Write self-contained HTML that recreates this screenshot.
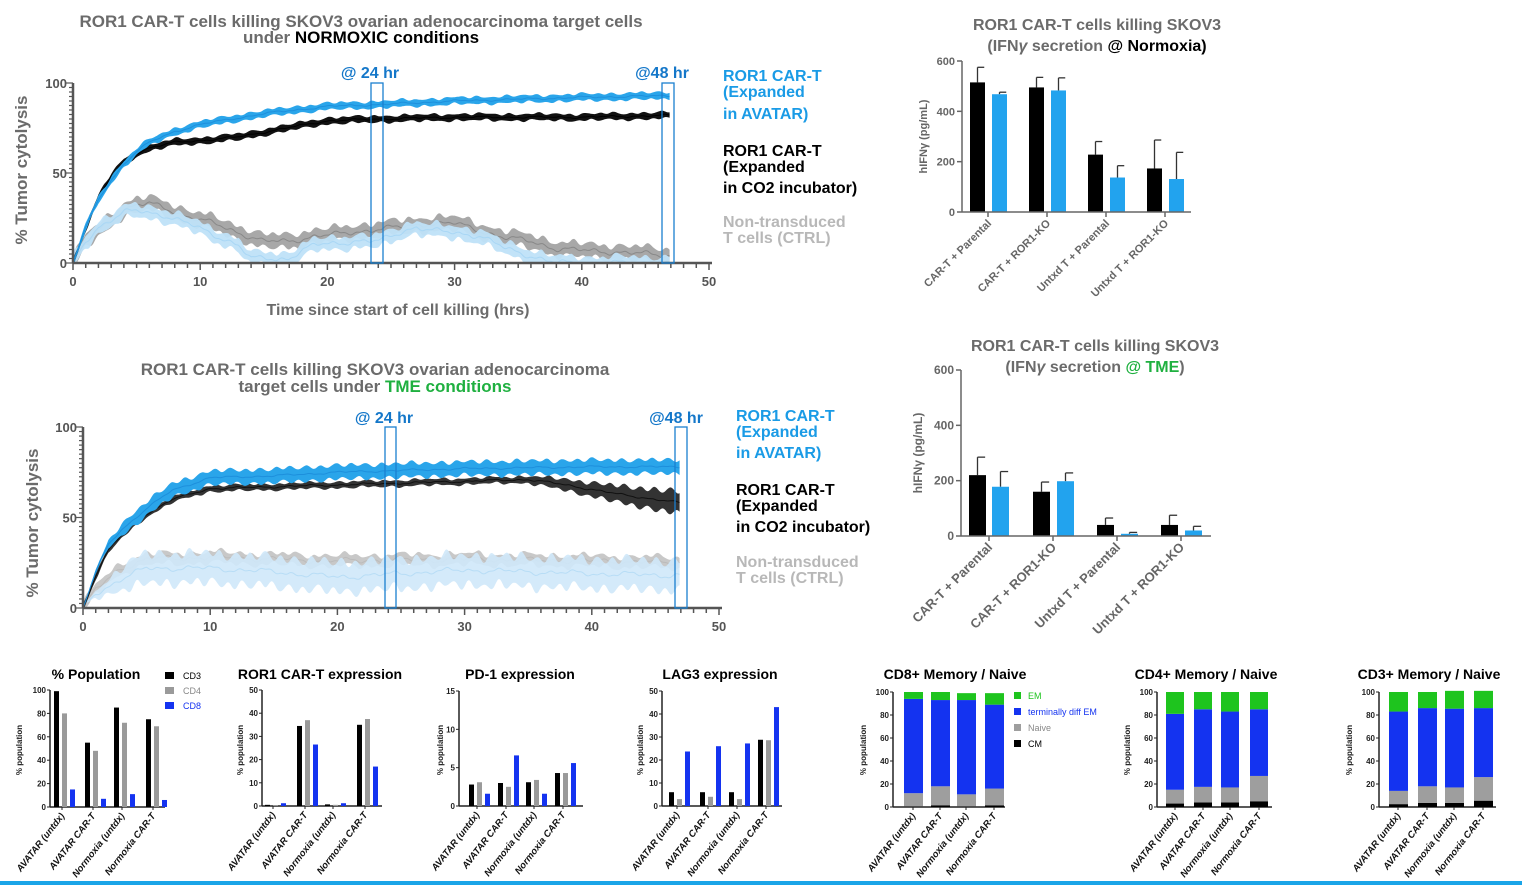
<!DOCTYPE html>
<html><head><meta charset="utf-8"><style>
html,body{margin:0;padding:0;background:#fff;}
svg{display:block;font-family:"Liberation Sans",Arial,sans-serif;}
</style></head><body>
<svg id="s" width="1522" height="885" viewBox="0 0 1522 885" xmlns="http://www.w3.org/2000/svg">
<rect width="1522" height="885" fill="#fff"/>
<g font-weight="bold" font-size="17" text-anchor="middle" fill="#6b6b6b">
<text x="361" y="27">ROR1 CAR-T cells killing SKOV3 ovarian adenocarcinoma target cells</text>
<text x="361" y="43">under <tspan fill="#000">NORMOXIC conditions</tspan></text>
<text x="375" y="375">ROR1 CAR-T cells killing SKOV3 ovarian adenocarcinoma</text>
<text x="375" y="392">target cells under <tspan fill="#1fb040">TME conditions</tspan></text>
<text x="398" y="315" font-size="16">Time since start of cell killing (hrs)</text>
<text transform="translate(27,170) rotate(-90)" font-size="17">% Tumor cytolysis</text>
<text transform="translate(38,523) rotate(-90)" font-size="17">% Tumor cytolysis</text>
</g>
<g font-weight="bold" font-size="16" fill="#1a9be6">
<text x="370" y="78" text-anchor="middle" fill="#1477c9">@ 24 hr</text>
<text x="662" y="78" text-anchor="middle" fill="#1477c9">@48 hr</text>
<text x="384" y="423" text-anchor="middle" fill="#1477c9">@ 24 hr</text>
<text x="676" y="423" text-anchor="middle" fill="#1477c9">@48 hr</text>
<text x="723" y="81">ROR1 CAR-T</text><text x="723" y="97">(Expanded</text><text x="723" y="119">in AVATAR)</text>
<text x="723" y="156" fill="#000">ROR1 CAR-T</text><text x="723" y="172" fill="#000">(Expanded</text><text x="723" y="193" fill="#000">in CO2 incubator)</text>
<text x="723" y="227" fill="#b8b8b8">Non-transduced</text><text x="723" y="243" fill="#b8b8b8">T cells (CTRL)</text>
<text x="736" y="421">ROR1 CAR-T</text><text x="736" y="437">(Expanded</text><text x="736" y="458">in AVATAR)</text>
<text x="736" y="495" fill="#000">ROR1 CAR-T</text><text x="736" y="511" fill="#000">(Expanded</text><text x="736" y="532" fill="#000">in CO2 incubator)</text>
<text x="736" y="567" fill="#b8b8b8">Non-transduced</text><text x="736" y="583" fill="#b8b8b8">T cells (CTRL)</text>
</g>
<g id="c1"></g><g id="c2"></g>
<g font-weight="bold" font-size="16" text-anchor="middle" fill="#6b6b6b">
<text x="1097" y="30">ROR1 CAR-T cells killing SKOV3</text>
<text x="1097" y="51">(IFN<tspan font-style="italic">γ</tspan> secretion <tspan fill="#000">@ Normoxia)</tspan></text>
<text x="1095" y="351">ROR1 CAR-T cells killing SKOV3</text>
<text x="1095" y="372">(IFN<tspan font-style="italic">γ</tspan> secretion <tspan fill="#1fb040">@ TME</tspan>)</text>
</g>
<g id="ifn"></g>
<g id="bot"></g>
<rect x="0" y="881" width="1522" height="4" fill="#1aa5e8"/>
</svg>
<script>
var NS="http://www.w3.org/2000/svg";
function el(p,t,a,txt){var e=document.createElementNS(NS,t);for(var k in a)e.setAttribute(k,a[k]);if(txt!=null)e.textContent=txt;p.appendChild(e);return e;}
function interp(pts,t){for(var i=1;i<pts.length;i++){if(t<=pts[i][0]){var a=pts[i-1],b=pts[i];return a[1]+(b[1]-a[1])*(t-a[0])/(b[0]-a[0]);}}return pts[pts.length-1][1];}
function kin(g,o){
 var X=function(t){return o.x0+t*(o.x1-o.x0)/50}, Y=function(v){return o.y0-v*(o.y0-o.y1)/100};
 o.series.forEach(function(s,si){
  var up=[],dn=[],mid=[];
  for(var t=0;t<=47;t+=0.1){var v=interp(s.p,t)+Math.sin(t*3.1+si)*s.n+Math.sin(t*1.3+si*2)*s.n+Math.sin(t*7.7+si)*s.n*0.5;var b=typeof s.b=="function"?s.b(t):s.b;
   b=b*(1+0.25*Math.sin(t*5.3+si));
   var hi=Math.max(0,v+b),lo=Math.max(0,v-b);up.push(X(t).toFixed(1)+","+Y(hi).toFixed(1));dn.unshift(X(t).toFixed(1)+","+Y(lo).toFixed(1));mid.push(X(t).toFixed(1)+","+Y(Math.max(0,v)).toFixed(1));}
  el(g,"polygon",{points:up.concat(dn).join(" "),fill:s.f,opacity:s.o||1});
  el(g,"polyline",{points:mid.join(" "),fill:"none",stroke:s.c,"stroke-width":1,opacity:s.o||1});
 });
 var ax="#555";
 el(g,"line",{x1:o.x0,y1:o.y0,x2:o.x1+3,y2:o.y0,stroke:ax,"stroke-width":2.5});
 el(g,"line",{x1:o.x0,y1:o.y0,x2:o.x0,y2:o.y1,stroke:ax,"stroke-width":2.5});
 for(var t=0;t<=50;t++){var L=t%10==0?7:5;el(g,"line",{x1:X(t),y1:o.y0,x2:X(t),y2:o.y0+L,stroke:ax,"stroke-width":1.5});
  if(t%10==0)el(g,"text",{x:X(t),y:o.y0+23,"text-anchor":"middle","font-size":13,"font-weight":"bold",fill:"#555"},t);}
 for(var v=0;v<=100;v+=2.5){var L=v%50==0?7:4;el(g,"line",{x1:o.x0-L,y1:Y(v),x2:o.x0,y2:Y(v),stroke:ax,"stroke-width":1.2});
  if(v%50==0)el(g,"text",{x:o.x0-6,y:Y(v)+5,"text-anchor":"end","font-size":13,"font-weight":"bold",fill:"#555"},v);}
 o.boxes.forEach(function(b){el(g,"rect",{x:b[0],y:o.y1,width:b[1]-b[0],height:o.y0-o.y1,fill:"none",stroke:"#1a7fd0","stroke-width":1.3});});
}
kin(document.getElementById("c1"),{x0:73,x1:709,y0:263,y1:83,boxes:[[371,383],[662,674]],series:[
 {p:[[0,0],[1,12],[2,18],[4,30],[5,32],[6,33],[7,31],[9,26],[11,22],[13,17],[15,12],[17,12],[19,15],[21,16],[24,19],[26,20],[28,22],[30,22],[32,18],[34,14],[36,12],[38,8],[40,7],[43,6],[47,4]],b:3.8,n:0.8,f:"#a8a8a8",c:"#888"},
 {p:[[0,0],[1,12],[2,20],[4,28],[5,29],[7,27],[9,22],[11,16],[13,10],[14,2],[15,3],[16,2],[17,3],[19,10],[22,12],[24,12],[26,18],[27,20],[28,18],[30,17],[32,15],[34,8],[36,4],[38,0],[47,0]],b:3.5,n:0.8,f:"#bfe2f8",c:"#a8d6f4",o:0.95},
 {p:[[0,0],[1,20],[2,36],[3,48],[4,56],[5,61],[6,64],[8,67],[10,68],[13,70],[16,74],[20,79],[24,80],[30,81],[35,81],[40,81],[47,82]],b:1.8,n:0.3,f:"#111",c:"#000"},
 {p:[[0,0],[1,20],[2,35],[3,46],[4,55],[5,62],[6,67],[8,73],[10,77],[15,83],[20,87],[24,88],[30,90],[40,92],[47,93]],b:1.9,n:0.3,f:"#2aa5ea",c:"#1d8fdc"}]});
kin(document.getElementById("c2"),{x0:83,x1:719,y0:608,y1:427,boxes:[[385,396],[675,687]],series:[
 {p:[[0,0],[1,10],[3,22],[5,27],[10,28],[20,26],[30,27],[40,26],[47,25]],b:3,n:0.8,f:"#c8c8c8",c:"#bbb"},
 {p:[[0,0],[1,8],[3,16],[5,22],[10,22],[15,20],[20,17],[30,21],[40,19],[47,18]],b:function(t){return Math.min(8,t*2)},n:0.8,f:"#cfe8f9",c:"#b5dcf5",o:0.9},
 {p:[[0,0],[1,18],[2,32],[3,40],[5,52],[7,60],[10,66],[15,67],[20,68],[30,70],[35,71],[38,68],[42,63],[47,58]],b:function(t){return t<34?1.7:1.7+(t-34)*0.35},n:0.3,f:"#333",c:"#111"},
 {p:[[0,0],[1,20],[2,35],[3,43],[5,55],[7,65],[10,72],[15,73],[20,75],[30,77],[40,78],[47,78]],b:function(t){return Math.min(3.8,t)},n:0.3,f:"#2aa5ea",c:"#1d8fdc"}]});

function ifn(g,o){
 var Y=function(v){return o.y0-v*(o.y0-o.y1)/600};
 o.bars.forEach(function(b){var x=b[0],w=b[1],v=b[2],e=b[3],c=b[4];
  el(g,"line",{x1:x+w/2,y1:Y(v),x2:x+w/2,y2:Y(v+e),stroke:"#333","stroke-width":1.3});
  el(g,"line",{x1:x+w/2,y1:Y(v+e),x2:x+w/2+w*0.45,y2:Y(v+e),stroke:"#333","stroke-width":1.3});
  el(g,"rect",{x:x,y:Y(v),width:w,height:o.y0-Y(v),fill:c});});
 el(g,"line",{x1:o.x0,y1:o.y0,x2:o.xe,y2:o.y0,stroke:"#666","stroke-width":1.5});
 el(g,"line",{x1:o.x0,y1:o.y0,x2:o.x0,y2:o.y1,stroke:"#666","stroke-width":1.5});
 [0,200,400,600].forEach(function(v){el(g,"line",{x1:o.x0-5,y1:Y(v),x2:o.x0,y2:Y(v),stroke:"#666","stroke-width":1.5});
  el(g,"text",{x:o.x0-7,y:Y(v)+4,"text-anchor":"end","font-size":o.fs,"font-weight":"bold",fill:"#666"},v);});
 var labs=["CAR-T + Parental","CAR-T + ROR1-KO","Untxd T + Parental","Untxd T + ROR1-KO"];
 o.ticks.forEach(function(tx,i){el(g,"line",{x1:tx,y1:o.y0,x2:tx,y2:o.y0+5,stroke:"#666","stroke-width":1.5});
  el(g,"text",{transform:"translate("+(tx+4)+","+(o.y0+12)+") rotate(-45)","text-anchor":"end","font-size":o.lf,fill:"#666","font-weight":"bold"},labs[i]);});
 el(g,"text",{transform:"translate("+o.yl+","+((o.y0+o.y1)/2)+") rotate(-90)","text-anchor":"middle","font-size":o.fs,"font-weight":"bold",fill:"#666"},"hIFNγ (pg/mL)");
}
var G=document.getElementById("ifn");
var K="#000",B="#22a3ee";
ifn(G,{x0:962,xe:1191,y0:212,y1:61,fs:11,lf:11,yl:927,ticks:[988,1047,1106,1165],bars:[
 [970,15,515,60,K],[992,15,468,8,B],[1029,15,495,40,K],[1051,15,483,50,B],[1088,15,228,52,K],[1110,15,137,47,B],[1147,15,173,113,K],[1169,15,131,106,B]]});
ifn(G,{x0:961,xe:1211,y0:536,y1:370,fs:12,lf:13,yl:922,ticks:[989,1053,1117,1181],bars:[
 [969,17,220,65,K],[992,17,178,55,B],[1033,17,160,35,K],[1057,17,198,30,B],[1097,17,40,25,K],[1121,17,8,5,B],[1161,17,40,35,K],[1185,17,20,15,B]]});

var BG=document.getElementById("bot");
var xl=["AVATAR (untdx)","AVATAR CAR-T","Normoxia (untdx)","Normoxia CAR-T"];
function axes(o){
 var Y=function(v){return o.y0-v*(o.y0-o.y1)/o.max};
 el(BG,"line",{x1:o.x0,y1:o.y0,x2:o.xe,y2:o.y0,stroke:"#222","stroke-width":1.5});
 el(BG,"line",{x1:o.x0,y1:o.y0,x2:o.x0,y2:o.y1,stroke:"#222","stroke-width":1.5});
 o.yt.forEach(function(v){el(BG,"line",{x1:o.x0-3,y1:Y(v),x2:o.x0,y2:Y(v),stroke:"#222","stroke-width":1});
  el(BG,"text",{x:o.x0-4,y:Y(v)+3,"text-anchor":"end","font-size":8,"font-weight":"bold",fill:"#222"},v);});
 el(BG,"text",{transform:"translate("+o.yl+",750) rotate(-90)","text-anchor":"middle","font-size":8,"font-weight":"bold",fill:"#222"},"% population");
 el(BG,"text",{x:o.tx,y:679,"text-anchor":"middle","font-size":14,"font-weight":"bold",fill:"#000"},o.title);
 o.ticks.forEach(function(tx,i){el(BG,"line",{x1:tx,y1:o.y0,x2:tx,y2:o.y0+3,stroke:"#222"});
  el(BG,"text",{transform:"translate("+(tx+3)+","+(o.y0+9)+") rotate(-52)","text-anchor":"end","font-size":9.5,"font-weight":"bold","font-style":"italic",fill:"#111"},xl[i]);});
 return Y;
}
function grouped(o){
 var Y=axes(o);var cols=["#000","#9a9a9a","#1433f0"];
 o.g.forEach(function(gr,i){gr.forEach(function(v,j){var x=o.gs[i]+j*8;el(BG,"rect",{x:x,y:Y(v),width:5,height:o.y0-Y(v),fill:cols[j]});});});
}
grouped({x0:50,xe:165,y0:807,y1:690,max:100,yt:[0,20,40,60,80,100],yl:22,tx:96,title:"% Population",ticks:[62,93,122,153],gs:[54,85,114,146],g:[[99,80,15],[55,48,7],[85,72,11],[75,69,6]]});
grouped({x0:262,xe:382,y0:806,y1:690,max:50,yt:[0,10,20,30,40,50],yl:243,tx:320,title:"ROR1 CAR-T expression",ticks:[273,305,333,365],gs:[265,297,325,357],g:[[0.5,0.3,1.2],[34.5,37,26.5],[0.7,0.5,1.2],[35,37.5,17]]});
grouped({x0:459,xe:583,y0:806,y1:691,max:15,yt:[0,5,10,15],yl:443,tx:520,title:"PD-1 expression",ticks:[477,506,534,563],gs:[469,498,526,555],g:[[2.8,3.1,1.6],[3,2.5,6.6],[3.1,3.4,1.6],[4.3,4.3,5.6]]});
grouped({x0:662,xe:782,y0:806,y1:691,max:50,yt:[0,10,20,30,40,50],yl:643,tx:720,title:"LAG3 expression",ticks:[677,708,737,766],gs:[669,700,729,758],g:[[6,3,23.7],[6,4,26],[6,3,27.2],[28.8,28.6,43]]});
[["CD3","#000","#000"],["CD4","#9a9a9a","#888"],["CD8","#1433f0","#1433f0"]].forEach(function(l,i){var y=672+i*15;
 el(BG,"rect",{x:165,y:y,width:9,height:7,fill:l[1]});el(BG,"text",{x:183,y:y+7,"font-size":9,fill:l[2]},l[0]);});
function stacked(o){
 var Y=axes(o);var cols=["#000","#9e9e9e","#1433f0","#1ec41e"];
 o.s.forEach(function(st,i){var prev=0;st.forEach(function(v,j){el(BG,"rect",{x:o.bx[i],y:Y(v),width:o.w,height:Y(prev)-Y(v),fill:cols[j]});prev=v;});});
}
stacked({x0:893,xe:1005,y0:807,y1:692,max:100,yt:[0,20,40,60,80,100],yl:866,tx:955,title:"CD8+ Memory / Naive",ticks:[913,940,966,994],bx:[904,931,957,985],w:19,s:[[0.5,12,94,100],[1.5,18,93,100],[0.5,11,93,99],[1.5,16,89,99]]});
stacked({x0:1157,xe:1272,y0:807,y1:692,max:100,yt:[0,20,40,60,80,100],yl:1130,tx:1206,title:"CD4+ Memory / Naive",ticks:[1175,1203,1230,1259],bx:[1166,1194,1221,1250],w:18,s:[[3,15,81,100],[4,17.5,85,100],[4,17,83,100],[5,27,85,100]]});
stacked({x0:1379,xe:1496,y0:807,y1:692,max:100,yt:[0,20,40,60,80,100],yl:1352,tx:1429,title:"CD3+ Memory / Naive",ticks:[1398,1427,1454,1483],bx:[1389,1418,1445,1474],w:19,s:[[2.5,14,83,100],[3.5,18,86,100],[3.5,17,85.5,101],[5.5,26,86,101]]});
[["EM","#1ec41e","#1ec41e"],["terminally diff EM","#1433f0","#1433f0"],["Naive","#9e9e9e","#888"],["CM","#000","#000"]].forEach(function(l,i){var y=692+i*16;
 el(BG,"rect",{x:1014,y:y,width:7,height:7,fill:l[1]});el(BG,"text",{x:1028,y:y+7,"font-size":9,fill:l[2]},l[0]);});
</script>
</body></html>
